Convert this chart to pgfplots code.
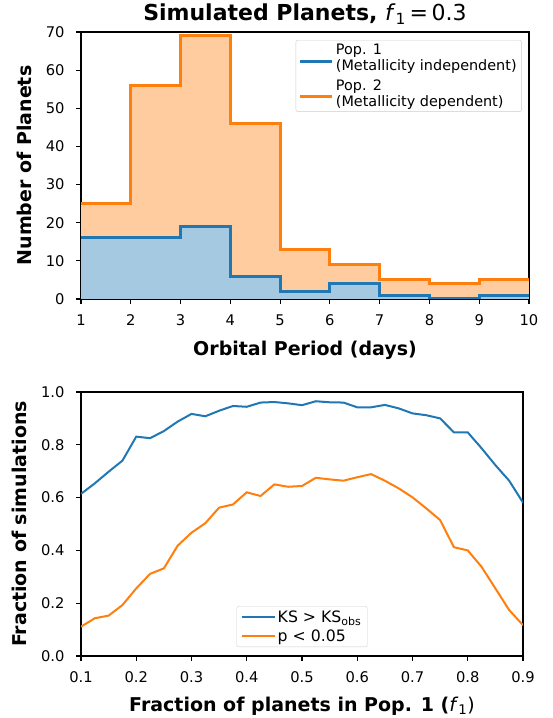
\documentclass[border=0pt]{standalone}
\usepackage{pgfplots}
\pgfplotsset{compat=1.18}
\usepackage{fontspec}
\setmainfont{DejaVu Sans}
\definecolor{C0}{HTML}{1F77B4}
\definecolor{C1}{HTML}{FF7F0E}
\definecolor{C0f}{HTML}{A5C9E1}
\definecolor{C1f}{HTML}{FFCC9F}
\pgfplotsset{
  every axis title shift=0pt,
  common/.style={
    scale only axis,
    axis line style={black, line width=1.1pt},
    tick style={black, line width=1.1pt},
    major tick length=5pt,
    tick align=outside,
    xtick pos=bottom, ytick pos=left,
    tick label style={font=\fontsize{14.7}{17}\selectfont},
    xticklabel shift=7pt, yticklabel shift=8pt,
    /pgf/number format/assume math mode=true,
    label style={font=\fontsize{19}{22}\selectfont\bfseries},
    legend style={draw=black!20, rounded corners=2pt, fill=white, fill opacity=0.8, text opacity=1, cells={align=left}},
    legend cell align=left,
  }
}
\begin{document}
\begin{tikzpicture}
\useasboundingbox (0,0) rectangle (553pt,718pt);
\begin{axis}[common,
  at={(81pt,419pt)}, anchor=south west,
  width=448pt, height=267pt,
  xmin=1, xmax=10, ymin=0, ymax=70,
  xtick={1,2,...,10}, ytick={0,10,...,70},
  xlabel={Orbital Period (days)},
  ylabel={Number of Planets},
  xlabel style={at={(axis description cs:0.5,-0.193)}, anchor=center},
  ylabel style={at={(axis description cs:-0.127,0.5)}, anchor=center},
  title={\fontsize{22}{26}\selectfont\bfseries Simulated Planets, \mdseries\textit{f}\textsubscript{1}\,=\,0.3},
  title style={at={(axis description cs:0.5,1.067)}, anchor=center},
  legend style={at={(axis description cs:0.984,0.970)}, anchor=north east,
    font=\fontsize{14.4}{15.6}\selectfont, row sep=4pt, inner xsep=3pt, inner ysep=2pt},
  legend image code/.code={\draw[#1, line width=3pt] (0pt,-3pt) -- (32pt,-3pt);},
]
\addplot[const plot, fill=C1f, draw=none, forget plot] coordinates {(1,25)(2,56)(3,69)(4,46)(5,13)(6,9)(7,5)(8,4)(9,5)(10,5)} \closedcycle;
\addplot[const plot, fill=C0f, draw=none, forget plot] coordinates {(1,16)(2,16)(3,19)(4,6)(5,2)(6,4)(7,1)(8,0)(9,1)(10,1)} \closedcycle;
\addplot[const plot, C0, line width=3pt] coordinates {(1,16)(2,16)(3,19)(4,6)(5,2)(6,4)(7,1)(8,0)(9,1)(10,1)};
\addlegendentry{Pop. 1\\(Metallicity independent)}
\addplot[const plot, C1, line width=3pt] coordinates {(1,25)(2,56)(3,69)(4,46)(5,13)(6,9)(7,5)(8,4)(9,5)(10,5)};
\addlegendentry{Pop. 2\\(Metallicity dependent)}
\end{axis}
\begin{axis}[common,
  at={(81pt,62pt)}, anchor=south west,
  width=442pt, height=264pt,
  xmin=0.1, xmax=0.9, ymin=0, ymax=1,
  xtick={0.1,0.2,...,0.9}, ytick={0,0.2,...,1.0},
  xticklabel style={/pgf/number format/.cd, fixed, fixed zerofill, precision=1},
  yticklabel style={/pgf/number format/.cd, fixed, fixed zerofill, precision=1},
  xlabel={Fraction of planets in Pop. 1 (\mdseries\textit{f}\textsubscript{1})},
  ylabel={Fraction of simulations},
  xlabel style={at={(axis description cs:0.5,-0.189)}, anchor=center},
  ylabel style={at={(axis description cs:-0.139,0.5)}, anchor=center},
  legend style={at={(axis description cs:0.5,0.034)}, anchor=south,
    font=\fontsize{15.7}{18}\selectfont, row sep=2pt, inner xsep=4pt, inner ysep=2pt},
  legend image code/.code={\draw[#1, line width=2pt] (0pt,0pt) -- (33pt,0pt);},
]
\addplot[C0, line width=2pt] coordinates {
(0.1,0.614)(0.125,0.654)(0.15,0.698)(0.175,0.740)(0.2,0.831)(0.225,0.825)(0.25,0.852)(0.275,0.888)(0.3,0.917)(0.325,0.908)(0.35,0.929)(0.375,0.947)(0.4,0.944)(0.425,0.960)(0.45,0.962)(0.475,0.957)(0.5,0.950)(0.525,0.965)(0.55,0.961)(0.575,0.960)(0.6,0.942)(0.625,0.942)(0.65,0.951)(0.675,0.938)(0.7,0.919)(0.725,0.912)(0.75,0.900)(0.775,0.847)(0.8,0.847)(0.825,0.787)(0.85,0.723)(0.875,0.664)(0.9,0.581)};
\addlegendentry{KS > KS\textsubscript{obs}}
\addplot[C1, line width=2pt] coordinates {
(0.1,0.111)(0.125,0.143)(0.15,0.153)(0.175,0.193)(0.2,0.256)(0.225,0.311)(0.25,0.332)(0.275,0.418)(0.3,0.467)(0.325,0.503)(0.35,0.562)(0.375,0.574)(0.4,0.620)(0.425,0.606)(0.45,0.650)(0.475,0.641)(0.5,0.644)(0.525,0.675)(0.55,0.669)(0.575,0.664)(0.6,0.677)(0.625,0.689)(0.65,0.664)(0.675,0.635)(0.7,0.601)(0.725,0.559)(0.75,0.515)(0.775,0.412)(0.8,0.400)(0.825,0.338)(0.85,0.256)(0.875,0.174)(0.9,0.117)};
\addlegendentry{p < 0.05}
\end{axis}
\end{tikzpicture}
\end{document}
